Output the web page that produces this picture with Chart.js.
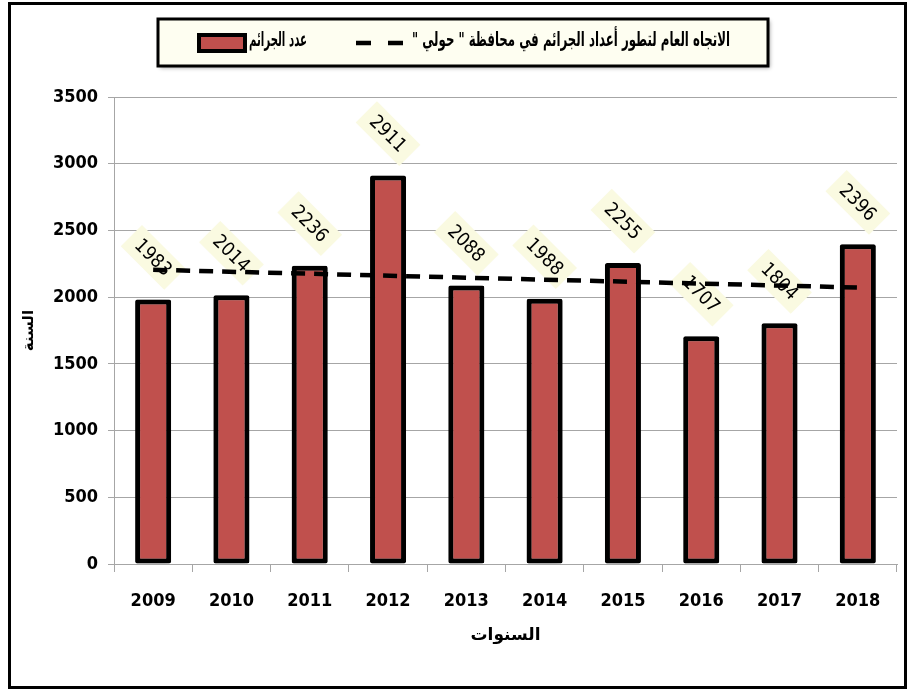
<!DOCTYPE html>
<html>
<head>
<meta charset="utf-8">
<script src="https://cdn.jsdelivr.net/npm/chart.js@4/dist/chart.umd.min.js"></script>
<style>
  body { margin: 0; background: #fff; }
  canvas { display: block; }
</style>
</head>
<body>
<canvas id="crimeChart" width="911" height="690"></canvas>
<script>
// data
const years = ['2009', '2010', '2011', '2012', '2013', '2014', '2015', '2016', '2017', '2018'];
const crimes = [1983, 2014, 2236, 2911, 2088, 1988, 2255, 1707, 1804, 2396];
// trend line end points (straight line)
const trend = [2205, null, null, null, null, null, null, null, null, 2072];
const barLabel = 'عدد الجرائم';
const trendLabel = 'الاتجاه العام لتطور أعداد الجرائم في محافظة " حولي "';
const xTitle = 'السنوات';
const yTitle = 'السنة';

const tickFont = { family: '"DejaVu Sans Condensed", "Liberation Sans", sans-serif', size: 18, weight: 'bold' };

// white background + outer frame
const framePlugin = {
    id: 'frame',
    beforeDraw(chart) {
        const ctx = chart.ctx;
        ctx.save();
        ctx.fillStyle = '#fff';
        ctx.fillRect(0, 0, chart.width, chart.height);
        ctx.restore();
    },
    afterDraw(chart) {
        const ctx = chart.ctx;
        ctx.save();
        ctx.strokeStyle = '#000';
        ctx.lineWidth = 3;
        ctx.strokeRect(9.5, 3.5, 896, 684);
        ctx.restore();
    }
};

// hand drawn legend box at the top
const legendBox = {
    id: 'legendBox',
    afterDraw(chart) {
        const ctx = chart.ctx;
        const bar = chart.data.datasets[0];
        const line = chart.data.datasets[1];
        ctx.save();
        // box
        ctx.shadowColor = 'rgba(0,0,0,0.35)';
        ctx.shadowBlur = 4;
        ctx.shadowOffsetX = 2;
        ctx.shadowOffsetY = 2;
        ctx.fillStyle = '#FEFEF1';
        ctx.fillRect(158, 19, 610, 47);
        ctx.shadowColor = 'transparent';
        ctx.strokeStyle = '#000';
        ctx.lineWidth = 3;
        ctx.strokeRect(158, 19, 610, 47);

        // bar swatch
        ctx.fillStyle = bar.backgroundColor;
        ctx.fillRect(199, 35, 46, 16);
        ctx.lineWidth = 4;
        ctx.strokeRect(199, 35, 46, 16);

        // dashed sample
        ctx.strokeStyle = line.borderColor;
        ctx.lineWidth = 4.5;
        ctx.setLineDash([15, 17]);
        ctx.beginPath();
        ctx.moveTo(356, 43);
        ctx.lineTo(403, 43);
        ctx.stroke();
        ctx.setLineDash([]);

        // texts
        ctx.fillStyle = '#000';
        ctx.font = 'bold 20px "DejaVu Sans", sans-serif';
        ctx.direction = 'rtl';
        ctx.textAlign = 'right';
        ctx.textBaseline = 'middle';
        const fit = (txt, right, y, maxW) => {
            const w = ctx.measureText(txt).width;
            const s = Math.min(1, maxW / w);
            ctx.save();
            ctx.translate(right, y);
            ctx.scale(s, 1);
            ctx.fillText(txt, 0, 0);
            ctx.restore();
        };
        fit(bar.label, 307, 41, 58);
        fit(line.label, 730, 41, 318);
        ctx.restore();
    }
};

// bar shadow + rotated value labels (drawn before the trend line)
const barLabels = {
    id: 'barLabels',
    beforeDatasetDraw(chart, args) {
        if (args.meta.type !== 'bar') return;
        const ctx = chart.ctx;
        ctx.save();
        ctx.shadowColor = 'rgba(0,0,0,0.35)';
        ctx.shadowBlur = 6;
        ctx.shadowOffsetX = -3;
        ctx.shadowOffsetY = 1;
    },
    afterDatasetDraw(chart, args) {
        if (args.meta.type !== 'bar') return;
        const ctx = chart.ctx;
        ctx.restore();
        const values = chart.data.datasets[args.index].data;
        ctx.save();
        ctx.font = '19px "DejaVu Sans Condensed", "Liberation Sans", sans-serif';
        ctx.textAlign = 'center';
        ctx.textBaseline = 'middle';
        args.meta.data.forEach((el, i) => {
            const txt = String(values[i]);
            const w = ctx.measureText(txt).width;
            ctx.save();
            ctx.translate(el.x, el.y - 42);
            ctx.rotate(Math.PI / 4);
            ctx.fillStyle = '#FAFAE1';
            ctx.fillRect(-w / 2 - 9, -15, w + 18, 30);
            ctx.fillStyle = '#000';
            ctx.fillText(txt, 0, 1);
            ctx.restore();
        });
        ctx.restore();
    }
};

function initializeCrimeChart() {
    const ctx = document.getElementById('crimeChart')?.getContext('2d');
    if (!ctx) return;
    new Chart(ctx, {
        type: 'bar',
        data: {
            labels: years,
            datasets: [{
                label: barLabel,
                data: crimes,
                backgroundColor: '#C0504D',
                borderColor: '#000',
                borderWidth: 5,
                borderSkipped: false,
                borderRadius: 2,
                barPercentage: 0.46,
                categoryPercentage: 1,
                order: 2
            }, {
                type: 'line',
                label: trendLabel,
                data: trend,
                borderColor: '#000',
                borderWidth: 4.5,
                borderDash: [14, 9],
                pointRadius: 0,
                spanGaps: true,
                fill: false,
                order: 1
            }]
        },
        options: {
            responsive: false,
            animation: false,
            layout: { padding: { top: 97, left: 16, right: 14, bottom: 40 } },
            plugins: {
                legend: { display: false },
                tooltip: { enabled: false }
            },
            scales: {
                x: {
                    afterFit(scale) { scale.height = 86; },
                    grid: { display: true, drawOnChartArea: false, color: '#A6A6A6', tickLength: 8, offset: true },
                    border: { color: '#A6A6A6' },
                    ticks: { color: '#000', font: tickFont, padding: 19 },
                    title: {
                        display: true, text: xTitle, color: '#000',
                        font: { family: '"DejaVu Sans", sans-serif', size: 17, weight: 'bold' }
                    }
                },
                y: {
                    min: 0,
                    max: 3500,
                    afterFit(scale) { scale.width = 98; },
                    grid: { color: '#A6A6A6', tickLength: 6 },
                    border: { color: '#A6A6A6' },
                    ticks: {
                        stepSize: 500, color: '#000', font: tickFont, padding: 10,
                        callback: (v) => String(v)
                    },
                    title: {
                        display: true, text: yTitle, color: '#000',
                        font: { family: '"DejaVu Sans", sans-serif', size: 15, weight: 'bold' }
                    }
                }
            }
        },
        plugins: [framePlugin, barLabels, legendBox]
    });
}

document.addEventListener('DOMContentLoaded', initializeCrimeChart);
</script>
</body>
</html>
